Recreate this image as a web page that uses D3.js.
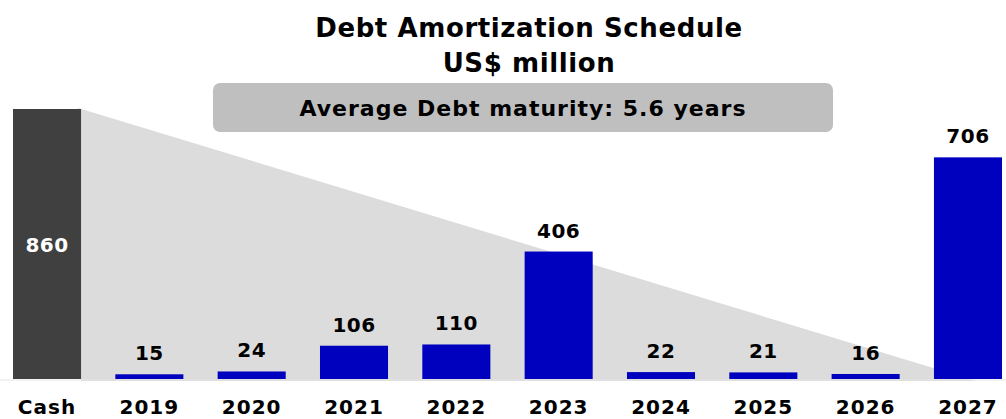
<!DOCTYPE html>
<html>
<head>
<meta charset="utf-8">
<script src="https://cdn.jsdelivr.net/npm/d3@7"></script>
<style>
  body { margin: 0; background: #fff; }
  text { font-family: "DejaVu Sans", sans-serif; font-weight: bold; }
</style>
</head>
<body>
<script>
// chart data
const categories = ["Cash", "2019", "2020", "2021", "2022", "2023", "2024", "2025", "2026", "2027"];
const values = [860, 15, 24, 106, 110, 406, 22, 21, 16, 706];
const titleLines = ["Debt Amortization Schedule", "US$ million"];
const badgeText = "Average Debt maturity: 5.6 years";

const W = 1006, H = 419;
const baseY = 379;

const svg = d3.select("body").append("svg")
    .attr("width", W).attr("height", H);

const x = d3.scaleBand().domain(categories)
    .range([13, 1002]).paddingInner(0.335).paddingOuter(0);
const y = d3.scaleLinear().domain([0, 860]).range([baseY, 109]);

// grey wedge behind the bars (cash running down)
const x0 = x("Cash") + x.bandwidth();
const x1 = x("2027") + x.bandwidth() * 0.62;
svg.append("path")
    .attr("d", `M${x0 - 3},${y(values[0]) - 1}L${x1},${baseY + 2}L${x0},${baseY + 2}Z`)
    .attr("fill", "#dcdcdc");

// axis line
svg.append("line")
    .attr("x1", 0).attr("x2", W).attr("y1", baseY + 1).attr("y2", baseY + 1)
    .attr("stroke", "#e4e4e4").attr("stroke-width", 1);

// bars
svg.selectAll(".bar").data(values).enter().append("rect")
    .attr("class", "bar")
    .attr("x", (d, i) => x(categories[i]))
    .attr("y", d => y(d))
    .attr("width", x.bandwidth())
    .attr("height", d => baseY - y(d))
    .attr("fill", (d, i) => i === 0 ? "#404040" : "#0000bf");

// value labels
svg.selectAll(".val").data(values).enter().append("text")
    .attr("class", "val")
    .attr("x", (d, i) => x(categories[i]) + x.bandwidth() / 2)
    .attr("y", (d, i) => i === 0 ? (y(d) + baseY) / 2 + 8 : y(d) - 14)
    .attr("text-anchor", "middle")
    .attr("font-size", 20)
    .attr("letter-spacing", 0.5)
    .attr("fill", (d, i) => i === 0 ? "#fff" : "#000")
    .text(d => d);

// category labels
svg.selectAll(".cat").data(categories).enter().append("text")
    .attr("class", "cat")
    .attr("x", d => x(d) + x.bandwidth() / 2)
    .attr("y", 414)
    .attr("text-anchor", "middle")
    .attr("font-size", 20)
    .attr("letter-spacing", 1)
    .attr("fill", "#000")
    .text(d => d);

// title
svg.selectAll(".title").data(titleLines).enter().append("text")
    .attr("class", "title")
    .attr("x", 529)
    .attr("y", (d, i) => 37 + i * 35)
    .attr("text-anchor", "middle")
    .attr("font-size", 26)
    .attr("letter-spacing", 0.6)
    .attr("fill", "#000")
    .text(d => d);

// badge
svg.append("rect")
    .attr("x", 213).attr("y", 83).attr("width", 620).attr("height", 49)
    .attr("rx", 7).attr("fill", "#bfbfbf");
svg.append("text")
    .attr("x", 523).attr("y", 116)
    .attr("text-anchor", "middle")
    .attr("font-size", 22)
    .attr("letter-spacing", 1)
    .attr("fill", "#000")
    .text(badgeText);
</script>
</body>
</html>
